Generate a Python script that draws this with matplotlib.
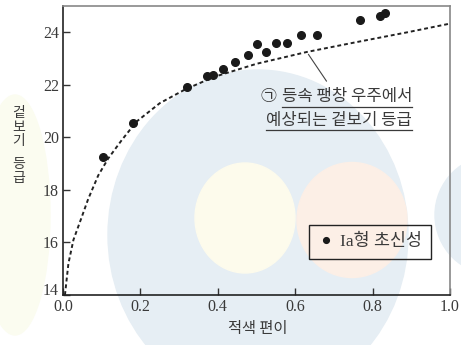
import matplotlib.pyplot as plt
from matplotlib.patches import Ellipse
from matplotlib.lines import Line2D

# Ia형 초신성 관측값 (적색 편이, 겉보기 등급)
sn_z = [0.103, 0.181, 0.320, 0.371, 0.388, 0.414, 0.445, 0.479, 0.501,
        0.525, 0.551, 0.579, 0.616, 0.656, 0.767, 0.818, 0.833]
sn_m = [19.26, 20.56, 21.90, 22.34, 22.36, 22.62, 22.87, 23.15, 23.57,
        23.25, 23.59, 23.59, 23.91, 23.91, 24.48, 24.61, 24.73]

# 등속 팽창 우주 예상 곡선
curve_z = [0.005, 0.014, 0.027, 0.048, 0.065, 0.091, 0.117, 0.152, 0.19,
           0.25, 0.315, 0.39, 0.5, 0.63, 0.76, 0.89, 1.0]
curve_m = [14.0, 15.2, 16.1, 16.95, 17.65, 18.55, 19.2, 19.9, 20.6,
           21.3, 21.82, 22.3, 22.8, 23.25, 23.63, 24.0, 24.33]

x_ticks = [0.0, 0.2, 0.4, 0.6, 0.8, 1.0]
y_ticks = [14, 16, 18, 20, 22, 24]

KR = 'Noto Sans CJK KR'
SERIF = 'Liberation Serif'
TXT = '#3a3a3a'

W, H = 461, 345
fig = plt.figure(figsize=(W / 100, H / 100), dpi=100)
ax = fig.add_axes([63 / W, 1 - 295 / H, 387 / W, 289 / H])
ax.set_facecolor('none')


def px(x, y):
    # figure pixel (from top-left) -> figure fraction
    return (x / W, 1 - y / H)


# pale watermark circles behind the chart
bg = [
    Ellipse(px(258, 235), 300 / W, 330 / H, color='#e6eef4'),
    Ellipse(px(245, 218), 100 / W, 110 / H, color='#fdfbec'),
    Ellipse(px(352, 220), 110 / W, 115 / H, color='#fcefe6'),
    Ellipse(px(15, 215), 70 / W, 240 / H, color='#fbfcf0'),
    Ellipse(px(495, 215), 120 / W, 120 / H, color='#e6eef4'),
]
for p in bg:
    p.set_transform(fig.transFigure)
    p.set_zorder(-5)
    fig.patches.append(p)

ax.plot(curve_z, curve_m, color='#222222', lw=1.4, ls=(0, (2, 1.5)), zorder=2)
ax.plot(sn_z, sn_m, 'o', color='#1a1a1a', ms=5.5, ls='none',
        label='Ia형 초신성', zorder=3)

ax.set_xlim(0, 1.0)
ax.set_ylim(14, 25)
ax.set_xticks(x_ticks)
ax.set_xticklabels([f'{v:.1f}' for v in x_ticks])
ax.set_yticks(y_ticks)
ax.tick_params(direction='in', length=5, width=1, color='#333333',
               labelsize=11.5, labelcolor=TXT, pad=3)
for lab in ax.get_xticklabels() + ax.get_yticklabels():
    lab.set_family(SERIF)
ax.get_yticklabels()[0].set_verticalalignment('baseline')

for s in ['left', 'bottom']:
    ax.spines[s].set_color('#222222')
    ax.spines[s].set_linewidth(1.2)
for s in ['top', 'right']:
    ax.spines[s].set_color('#888888')
    ax.spines[s].set_linewidth(1.2)

leg = ax.legend(loc='upper left', bbox_to_anchor=(0.636, 0.242),
                borderaxespad=0, fancybox=False, edgecolor='#222222',
                framealpha=1, facecolor='none', handletextpad=0.4,
                handlelength=0.9, borderpad=0.5,
                prop={'family': [SERIF, KR], 'size': 12.5}, markerscale=0.75)
leg.get_frame().set_linewidth(1.0)
for t in leg.get_texts():
    t.set_color(TXT)

# axis labels
fig.text(*px(258, 328), '적색 편이', family=KR, fontsize=11, color=TXT,
         ha='center', va='center')
fig.text(*px(19, 127), '겉\n보\n기', family=KR, fontsize=10, color=TXT,
         ha='center', va='center', linespacing=1.0)
fig.text(*px(19, 171), '등\n급', family=KR, fontsize=10, color=TXT,
         ha='center', va='center', linespacing=1.0)

# annotation ㉠
ax.annotate('', xy=(0.63, 23.25), xytext=(0.685, 22.05),
            arrowprops=dict(arrowstyle='-', color='#444444', lw=0.8))
fig.text(*px(268, 97), '㉠', family=KR, fontsize=11.5, color=TXT,
         ha='center', va='center')
t1 = fig.text(*px(347, 97), '등속 팽창 우주에서', family=KR, fontsize=12,
              color=TXT, ha='center', va='center')
t2 = fig.text(*px(339, 120), '예상되는 겉보기 등급', family=KR, fontsize=12,
              color=TXT, ha='center', va='center')

fig.canvas.draw()
r = fig.canvas.get_renderer()
for t in (t1, t2):
    bb = t.get_window_extent(r)
    yline = bb.y0 - 1
    fig.add_artist(Line2D([bb.x0 / W, bb.x1 / W], [yline / H, yline / H],
                          transform=fig.transFigure, color=TXT, lw=0.9))

fig.savefig('out.png', dpi=100)
